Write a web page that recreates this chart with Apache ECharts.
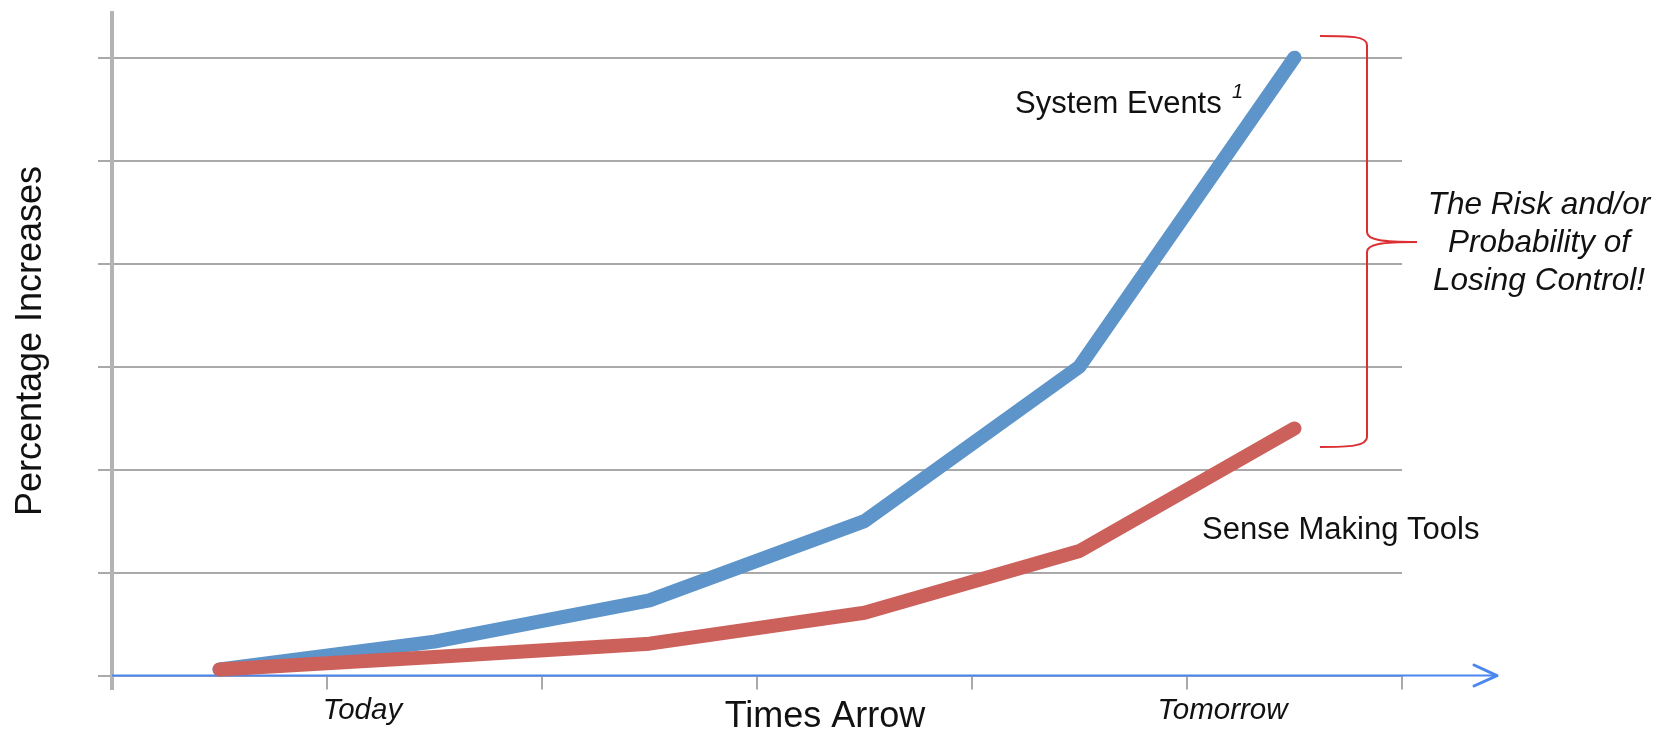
<!DOCTYPE html>
<html><head><meta charset="utf-8">
<script src="https://cdn.jsdelivr.net/npm/echarts@6/dist/echarts.min.js"></script>
<style>html,body{margin:0;padding:0;background:#fff}#c{width:1663px;height:734px}</style>
</head><body><div id="c"></div>
<script>
const categories = ['', 'Today', '', '', '', 'Tomorrow'];
const systemEvents = [0.06, 0.33, 0.73, 1.5, 3.0, 6.0];
const senseMakingTools = [0.06, 0.18, 0.31, 0.61, 1.21, 2.4];
const yTicks = [0, 1, 2, 3, 4, 5, 6];

const FONT = "'Liberation Sans', Arial, Helvetica, sans-serif";
const GRID = '#a9a9a9';
const BRACE = {stroke: '#dc2f33', lineWidth: 2, fill: null};
const chart = echarts.init(document.getElementById('c'), null, {renderer: 'canvas'});

function bez(x1, y1, cpx1, cpy1, cpx2, cpy2, x2, y2) {
  return {type: 'bezierCurve', z: 5, shape: {x1, y1, cpx1, cpy1, cpx2, cpy2, x2, y2}, style: BRACE};
}
function seg(x1, y1, x2, y2) {
  return {type: 'line', z: 5, shape: {x1, y1, x2, y2}, style: BRACE};
}

chart.setOption({
  animation: false,
  backgroundColor: '#ffffff',
  grid: {left: 112, right: 261, top: 57.6, bottom: 58.4, containLabel: false},
  xAxis: {
    type: 'category',
    data: categories,
    boundaryGap: true,
    axisLine: {show: false},
    axisTick: {show: true, length: 14, lineStyle: {color: GRID, width: 2}},
    axisLabel: {
      interval: 0,
      margin: 20,
      fontFamily: FONT, fontSize: 29.5, fontStyle: 'italic', color: '#111',
      padding: [0, 144, 0, 0]
    },
    splitLine: {show: false}
  },
  yAxis: {
    type: 'value',
    min: yTicks[0], max: yTicks[yTicks.length - 1], interval: yTicks[1] - yTicks[0],
    axisLine: {show: false},
    axisTick: {show: true, length: 14, lineStyle: {color: GRID, width: 2}},
    axisLabel: {show: false},
    splitLine: {show: true, lineStyle: {color: GRID, width: 2}}
  },
  series: [
    {
      name: 'System Events', type: 'line', data: systemEvents,
      showSymbol: false, z: 3,
      lineStyle: {color: '#5d94c9', width: 14, cap: 'round', join: 'round'}
    },
    {
      name: 'Sense Making Tools', type: 'line', data: senseMakingTools,
      showSymbol: false, z: 4,
      lineStyle: {color: '#cc615c', width: 14, cap: 'round', join: 'round'}
    }
  ],
  graphic: [
    {type: 'line', z: 1, shape: {x1: 112, y1: 11, x2: 112, y2: 690},
     style: {stroke: '#b3b3b3', lineWidth: 4}},
    {type: 'line', z: 2, shape: {x1: 112, y1: 675.6, x2: 1497, y2: 675.6},
     style: {stroke: '#4a86f0', lineWidth: 2}},
    {type: 'polyline', z: 2, shape: {points: [[1474, 665], [1497, 675.6], [1474, 686]]},
     style: {stroke: '#4a86f0', lineWidth: 3, fill: null, lineCap: 'round', lineJoin: 'round'}},
    bez(1320, 36, 1350, 36, 1367, 36, 1367, 45),
    seg(1367, 45, 1367, 232),
    bez(1367, 232, 1367, 240, 1382, 242, 1417, 242),
    bez(1417, 242, 1382, 242, 1367, 244, 1367, 252),
    seg(1367, 252, 1367, 437),
    bez(1367, 437, 1367, 446, 1350, 447, 1320, 447),
    {type: 'text', z: 10, x: 31, y: 341, rotation: Math.PI / 2,
     style: {text: 'Percentage Increases', font: "36px " + FONT, fill: '#111', align: 'center', verticalAlign: 'middle'}},
    {type: 'text', z: 10, x: 825, y: 717,
     style: {text: 'Times Arrow', font: "36px " + FONT, fill: '#111', align: 'center', verticalAlign: 'middle'}},
    {type: 'text', z: 10, x: 1015, y: 104,
     style: {text: 'System Events', font: "31px " + FONT, fill: '#111', align: 'left', verticalAlign: 'middle'}},
    {type: 'text', z: 10, x: 1232, y: 92,
     style: {text: '1', font: "italic 20px " + FONT, fill: '#111', align: 'left', verticalAlign: 'middle'}},
    {type: 'text', z: 10, x: 1202, y: 530,
     style: {text: 'Sense Making Tools', font: "31px " + FONT, fill: '#111', align: 'left', verticalAlign: 'middle'}},
    {type: 'text', z: 10, x: 1539, y: 243,
     style: {text: 'The Risk and/or\nProbability of\nLosing Control!', font: "italic 31.5px " + FONT, lineHeight: 38,
             fill: '#111', align: 'center', verticalAlign: 'middle'}}
  ]
});
</script></body></html>
